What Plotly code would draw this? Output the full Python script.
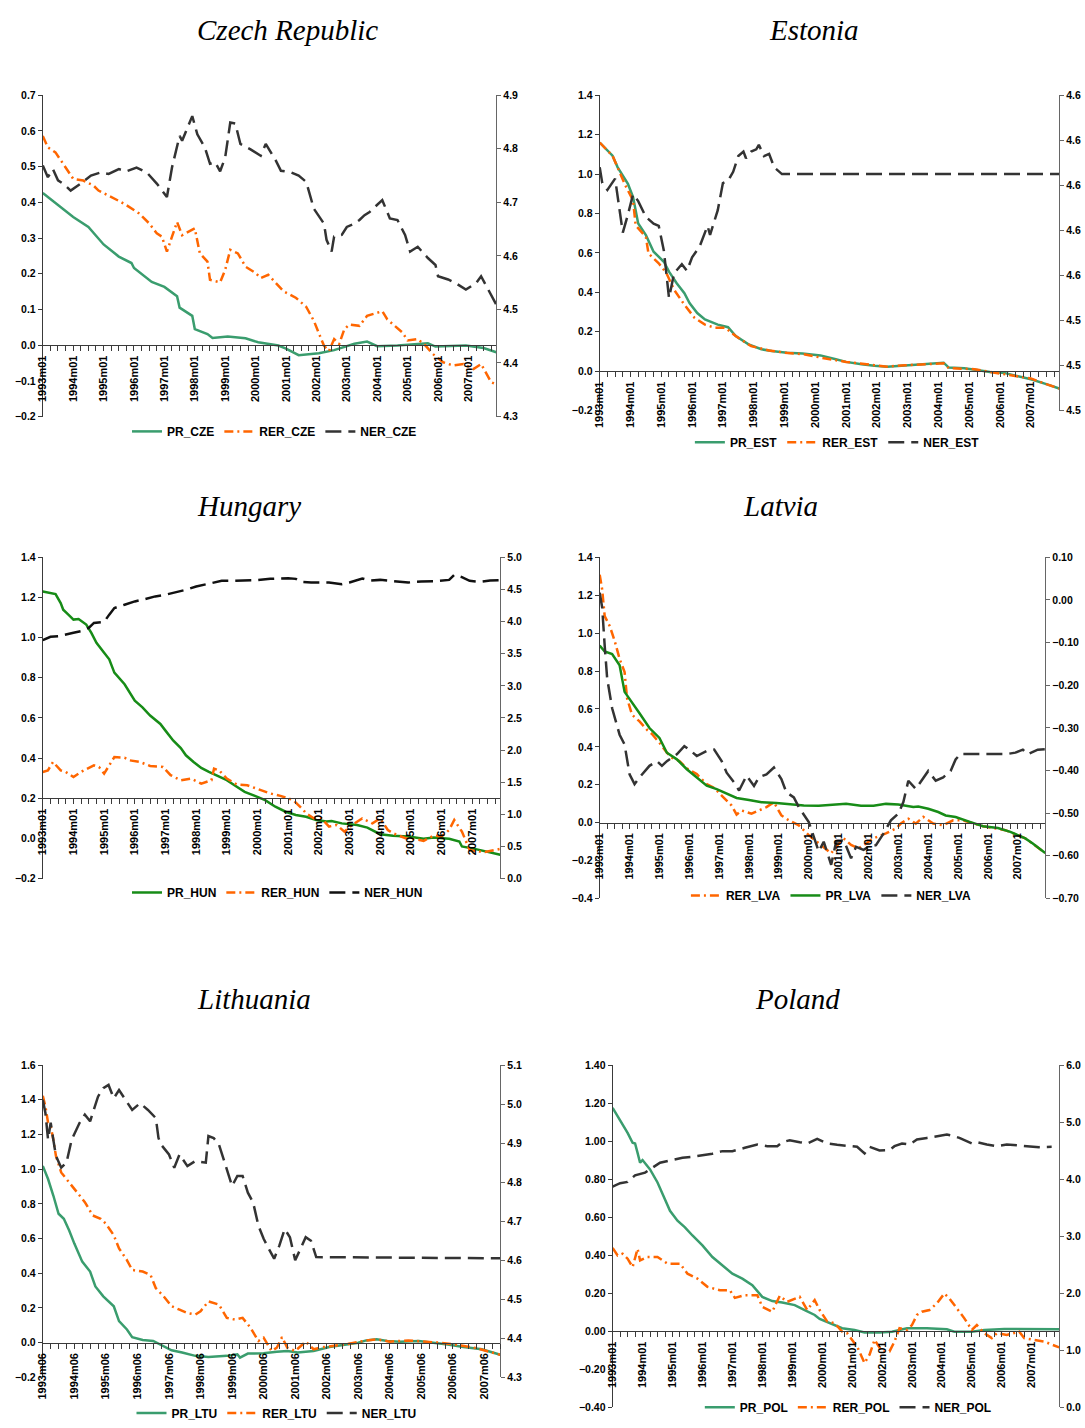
import plotly.graph_objects as go

# ---------------------------------------------------------------------------
# Data: month index counted from 1993m01 (0 = 1993m01, 179 = 2007m12)
# PR = relative price, RER = real exchange rate, NER = log nominal exchange rate
# ---------------------------------------------------------------------------

# Czech Republic
CZE_PR_M = [0, 6, 12, 18, 22, 24, 30, 35, 36, 43, 48, 53, 54, 59, 60, 65, 67, 73, 80, 85,
            93, 96, 101, 109, 115, 120, 123, 128, 132, 140, 147, 152, 155, 167, 174, 179]
CZE_PR = [0.426, 0.392, 0.359, 0.331, 0.299, 0.282, 0.248, 0.230, 0.216, 0.177, 0.163, 0.137,
          0.105, 0.082, 0.045, 0.031, 0.020, 0.024, 0.019, 0.008, -0.001, -0.010, -0.028,
          -0.023, -0.014, -0.004, 0.004, 0.010, -0.003, -0.001, 0.003, 0.005, -0.004, -0.001,
          -0.008, -0.020]
CZE_RER_M = [0, 2, 5, 8, 10, 12, 16, 20, 22, 26, 30, 33, 38, 42, 45, 47, 49, 51, 53, 55, 59,
             60, 62, 65, 66, 70, 72, 74, 77, 80, 84, 86, 89, 93, 95, 100, 104, 107, 111, 113,
             115, 117, 119, 121, 125, 128, 134, 136, 139, 142, 144, 148, 151, 154, 158, 162,
             166, 170, 173, 177, 179]
CZE_RER = [0.586, 0.554, 0.540, 0.507, 0.487, 0.466, 0.461, 0.447, 0.433, 0.419, 0.404, 0.392,
           0.369, 0.341, 0.313, 0.304, 0.262, 0.304, 0.345, 0.308, 0.322, 0.327, 0.257, 0.234,
           0.183, 0.176, 0.211, 0.267, 0.257, 0.220, 0.202, 0.188, 0.197, 0.165, 0.151, 0.132,
           0.107, 0.068, -0.002, -0.016, 0.017, 0.003, 0.044, 0.058, 0.054, 0.082, 0.095,
           0.072, 0.054, 0.035, 0.013, 0.017, -0.001, -0.025, -0.048, -0.057, -0.053, -0.067,
           -0.053, -0.104, -0.110]
CZE_NER_M = [0, 2, 4, 6, 8, 11, 15, 19, 23, 26, 30, 33, 37, 41, 45, 49, 51, 54, 55, 59, 61,
             64, 66, 68, 70, 72, 74, 76, 78, 82, 86, 88, 92, 94, 98, 101, 104, 107, 111, 112,
             114, 115, 118, 120, 123, 125, 127, 129, 131, 134, 137, 140, 143, 145, 148, 152,
             155, 156, 160, 163, 167, 171, 173, 177, 179]
CZE_NER = [4.769, 4.747, 4.762, 4.741, 4.735, 4.722, 4.735, 4.750, 4.756, 4.753, 4.762, 4.758,
           4.765, 4.756, 4.735, 4.710, 4.765, 4.824, 4.815, 4.861, 4.827, 4.802, 4.772, 4.775,
           4.758, 4.784, 4.849, 4.847, 4.809, 4.799, 4.787, 4.809, 4.778, 4.759, 4.756, 4.750,
           4.738, 4.688, 4.660, 4.630, 4.608, 4.636, 4.639, 4.654, 4.660, 4.667, 4.676, 4.682,
           4.691, 4.704, 4.670, 4.667, 4.639, 4.608, 4.617, 4.596, 4.583, 4.562, 4.556, 4.549,
           4.537, 4.549, 4.562, 4.525, 4.509]

# Estonia
EST_PR_M = [0, 5, 7, 11, 13, 15, 18, 21, 25, 27, 30, 33, 35, 38, 41, 46, 50, 53, 58, 63, 67,
            73, 79, 86, 92, 96, 102, 107, 112, 119, 126, 134, 136, 142, 147, 152, 158, 163,
            168, 174, 179]
EST_PR = [1.160, 1.093, 1.034, 0.950, 0.883, 0.749, 0.690, 0.606, 0.555, 0.505, 0.446, 0.396,
          0.346, 0.295, 0.262, 0.236, 0.223, 0.178, 0.136, 0.111, 0.102, 0.094, 0.090, 0.080,
          0.060, 0.047, 0.035, 0.027, 0.023, 0.030, 0.035, 0.043, 0.018, 0.015, 0.006, -0.004,
          -0.010, -0.027, -0.041, -0.066, -0.088]
EST_RER_M = [0, 5, 10, 13, 14, 18, 19, 23, 26, 29, 33, 37, 41, 45, 49, 53, 59, 66, 72, 80,
             88, 96, 107, 112, 119, 126, 134, 136, 146, 152, 158, 163, 168, 174, 179]
EST_RER = [1.160, 1.093, 0.942, 0.866, 0.740, 0.681, 0.597, 0.547, 0.497, 0.413, 0.337, 0.270,
           0.236, 0.220, 0.220, 0.178, 0.127, 0.105, 0.094, 0.085, 0.064, 0.047, 0.030, 0.023,
           0.030, 0.033, 0.040, 0.015, 0.010, -0.004, -0.015, -0.027, -0.037, -0.066, -0.088]
EST_NER_M = [0, 1, 3, 6, 7, 9, 11, 13, 15, 18, 21, 23, 25, 27, 29, 32, 34, 36, 39, 42, 43,
             46, 48, 50, 52, 54, 56, 57, 59, 61, 62, 64, 66, 68, 71, 179]
EST_NER = [4.608, 4.601, 4.598, 4.603, 4.595, 4.579, 4.587, 4.596, 4.593, 4.586, 4.583, 4.582,
           4.571, 4.550, 4.561, 4.565, 4.562, 4.568, 4.573, 4.582, 4.578, 4.589, 4.601, 4.602,
           4.606, 4.613, 4.615, 4.612, 4.615, 4.616, 4.618, 4.613, 4.614, 4.608, 4.605, 4.605]

# Hungary
HUN_PR_M = [0, 3, 5, 7, 8, 10, 12, 14, 17, 19, 21, 24, 26, 28, 32, 36, 39, 42, 46, 48, 51,
            54, 56, 59, 62, 65, 68, 72, 75, 79, 83, 87, 91, 95, 99, 103, 107, 111, 113, 117,
            123, 127, 132, 137, 143, 149, 153, 159, 163, 164, 169, 173, 179]
HUN_PR = [1.230, 1.222, 1.217, 1.172, 1.139, 1.115, 1.090, 1.093, 1.065, 1.024, 0.974, 0.925,
          0.892, 0.826, 0.768, 0.686, 0.653, 0.612, 0.570, 0.537, 0.488, 0.450, 0.414, 0.381,
          0.351, 0.331, 0.315, 0.290, 0.265, 0.232, 0.212, 0.191, 0.158, 0.133, 0.117, 0.108,
          0.092, 0.084, 0.087, 0.075, 0.067, 0.054, 0.021, 0.013, 0.010, -0.002, 0.005,
          -0.002, -0.015, -0.040, -0.052, -0.065, -0.081]
HUN_RER_M = [0, 2, 4, 7, 9, 12, 14, 16, 20, 22, 24, 26, 28, 32, 34, 38, 42, 47, 50, 54, 58,
             62, 66, 67, 69, 72, 76, 80, 85, 89, 93, 98, 102, 103, 106, 109, 112, 115, 118,
             121, 125, 129, 132, 135, 137, 142, 147, 149, 153, 156, 159, 161, 164, 167, 169,
             173, 179]
HUN_RER = [0.331, 0.339, 0.381, 0.339, 0.331, 0.306, 0.323, 0.339, 0.364, 0.356, 0.323, 0.364,
           0.405, 0.402, 0.389, 0.381, 0.361, 0.356, 0.315, 0.290, 0.298, 0.273, 0.290, 0.348,
           0.339, 0.298, 0.268, 0.265, 0.240, 0.224, 0.212, 0.191, 0.141, 0.125, 0.100, 0.100,
           0.059, 0.067, 0.034, 0.067, 0.100, 0.075, 0.100, 0.042, 0.026, 0.001, -0.007,
           -0.012, 0.014, 0.010, 0.042, 0.092, 0.034, -0.057, -0.062, -0.068, -0.052]
HUN_NER_M = [0, 3, 6, 10, 12, 15, 18, 20, 24, 26, 28, 32, 36, 40, 44, 48, 52, 56, 60, 66, 70,
             74, 79, 84, 89, 96, 99, 101, 105, 112, 117, 120, 125, 128, 132, 137, 143, 148,
             153, 159, 161, 164, 167, 171, 175, 179]
HUN_NER = [3.711, 3.763, 3.773, 3.814, 3.825, 3.851, 3.902, 3.979, 3.995, 4.108, 4.211, 4.263,
           4.314, 4.351, 4.392, 4.418, 4.454, 4.495, 4.546, 4.598, 4.634, 4.634, 4.639, 4.644,
           4.665, 4.675, 4.665, 4.619, 4.608, 4.608, 4.582, 4.608, 4.670, 4.639, 4.649, 4.634,
           4.608, 4.624, 4.629, 4.649, 4.727, 4.691, 4.634, 4.619, 4.639, 4.645]

# Latvia
LVA_PR_M = [0, 2, 5, 7, 8, 10, 13, 16, 20, 24, 27, 31, 35, 39, 43, 47, 51, 55, 60, 65, 71,
            75, 82, 88, 95, 99, 105, 110, 115, 120, 126, 128, 132, 136, 139, 143, 149, 154,
            160, 165, 171, 174, 179]
LVA_PR = [0.934, 0.903, 0.890, 0.847, 0.830, 0.690, 0.630, 0.577, 0.499, 0.447, 0.369, 0.334,
          0.282, 0.238, 0.195, 0.177, 0.155, 0.130, 0.120, 0.108, 0.104, 0.099, 0.090, 0.089,
          0.097, 0.099, 0.089, 0.089, 0.099, 0.096, 0.082, 0.085, 0.073, 0.056, 0.038, 0.030,
          0.003, -0.019, -0.028, -0.049, -0.083, -0.110, -0.160]
LVA_RER_M = [0, 1, 2, 4, 6, 8, 10, 11, 13, 16, 19, 21, 24, 27, 29, 32, 35, 39, 43, 46, 49,
             53, 55, 57, 61, 64, 67, 70, 73, 76, 80, 84, 88, 93, 95, 98, 101, 104, 107, 110,
             115, 119, 121, 124, 127, 130, 134, 138, 142, 146, 154, 163, 171, 179]
LVA_RER = [1.308, 1.230, 1.090, 1.038, 0.960, 0.864, 0.795, 0.656, 0.569, 0.534, 0.490, 0.468,
           0.421, 0.369, 0.343, 0.325, 0.287, 0.256, 0.203, 0.183, 0.143, 0.090, 0.043, 0.064,
           0.047, 0.064, 0.082, 0.108, 0.038, 0.012, -0.014, -0.066, -0.110, -0.162, -0.127,
           -0.083, -0.118, -0.136, -0.110, -0.083, -0.057, -0.031, -0.005, 0.021, -0.005,
           0.030, -0.005, -0.014, 0.012, 0.012, -0.019, -0.040, -0.083, -0.160]
LVA_NER_M = [0, 1, 2, 3, 5, 8, 10, 12, 14, 16, 20, 23, 25, 27, 31, 34, 36, 39, 43, 46, 49,
             51, 54, 56, 59, 62, 64, 67, 70, 73, 75, 78, 80, 82, 84, 86, 88, 90, 93, 95, 98,
             101, 103, 106, 108, 111, 114, 117, 120, 122, 124, 127, 130, 132, 135, 138, 141,
             143, 145, 164, 167, 170, 172, 176, 179]
LVA_NER = [0.017, -0.018, -0.107, -0.184, -0.254, -0.316, -0.339, -0.409, -0.432, -0.416,
           -0.389, -0.378, -0.389, -0.378, -0.362, -0.343, -0.351, -0.366, -0.354, -0.351,
           -0.378, -0.405, -0.428, -0.447, -0.412, -0.436, -0.416, -0.409, -0.393, -0.420,
           -0.451, -0.463, -0.486, -0.505, -0.521, -0.555, -0.590, -0.567, -0.621, -0.567,
           -0.563, -0.606, -0.579, -0.586, -0.579, -0.575, -0.548, -0.517, -0.501, -0.474,
           -0.424, -0.443, -0.416, -0.401, -0.424, -0.416, -0.401, -0.374, -0.361, -0.361,
           -0.358, -0.351, -0.362, -0.351, -0.350]

# Lithuania (series start in 1993m06 = month 5)
LTU_PR_M = [5, 7, 9, 11, 13, 15, 17, 20, 23, 25, 28, 32, 34, 37, 39, 43, 47, 50, 54, 58, 63,
            68, 75, 79, 80, 83, 89, 94, 98, 102, 108, 114, 120, 125, 128, 132, 136, 141, 148,
            154, 159, 165, 172, 179]
LTU_PR = [1.019, 0.943, 0.848, 0.743, 0.714, 0.648, 0.571, 0.467, 0.410, 0.324, 0.267, 0.210,
          0.124, 0.076, 0.032, 0.015, 0.010, -0.013, -0.044, -0.057, -0.076, -0.082, -0.076,
          -0.067, -0.086, -0.063, -0.061, -0.053, -0.048, -0.057, -0.048, -0.025, -0.010,
          0.000, 0.013, 0.019, 0.010, 0.006, 0.010, 0.000, -0.010, -0.025, -0.038, -0.070]
LTU_RER_M = [5, 6, 7, 8, 9, 10, 12, 14, 16, 19, 21, 24, 27, 29, 32, 34, 37, 39, 43, 46, 48,
             51, 54, 57, 60, 63, 65, 68, 72, 75, 78, 81, 84, 87, 89, 92, 94, 96, 98, 101, 103,
             105, 108, 112, 120, 128, 132, 137, 144, 150, 156, 163, 170, 179]
LTU_RER = [1.423, 1.362, 1.267, 1.248, 1.171, 1.076, 0.981, 0.943, 0.905, 0.848, 0.810, 0.733,
           0.714, 0.686, 0.619, 0.543, 0.476, 0.419, 0.410, 0.390, 0.314, 0.267, 0.210, 0.190,
           0.171, 0.162, 0.181, 0.238, 0.219, 0.143, 0.133, 0.143, 0.086, 0.010, 0.029,
           -0.048, -0.029, 0.032, -0.029, -0.048, -0.019, 0.006, -0.038, -0.025, -0.010,
           0.013, 0.019, 0.006, 0.013, 0.006, 0.000, -0.013, -0.032, -0.070]
LTU_NER_M = [5, 6, 7, 8, 9, 10, 12, 14, 16, 19, 21, 23, 26, 28, 30, 32, 34, 37, 39, 42, 45,
             48, 49, 50, 53, 55, 57, 60, 63, 67, 68, 70, 72, 75, 77, 79, 81, 83, 85, 87, 89,
             91, 93, 95, 97, 99, 101, 103, 105, 107, 109, 179]
LTU_NER = [5.011, 4.977, 4.909, 4.952, 4.909, 4.867, 4.837, 4.850, 4.909, 4.952, 4.973, 4.956,
           5.019, 5.041, 5.049, 5.015, 5.036, 5.007, 4.985, 5.002, 4.985, 4.964, 4.913, 4.896,
           4.871, 4.837, 4.871, 4.841, 4.854, 4.850, 4.918, 4.913, 4.896, 4.833, 4.790, 4.816,
           4.816, 4.773, 4.748, 4.689, 4.655, 4.629, 4.604, 4.638, 4.680, 4.659, 4.600, 4.629,
           4.659, 4.650, 4.608, 4.605]

# Poland
POL_PR_M = [0, 2, 4, 6, 8, 9, 10, 11, 12, 15, 18, 21, 23, 26, 29, 32, 36, 40, 44, 48, 52,
            56, 60, 64, 68, 73, 77, 81, 83, 88, 92, 97, 101, 107, 112, 118, 126, 134, 137,
            144, 149, 157, 164, 171, 179]
POL_PR = [1.174, 1.130, 1.086, 1.043, 0.991, 0.987, 0.938, 0.886, 0.900, 0.851, 0.782, 0.694,
          0.633, 0.581, 0.546, 0.503, 0.451, 0.390, 0.346, 0.302, 0.276, 0.241, 0.180, 0.158,
          0.151, 0.137, 0.111, 0.085, 0.064, 0.036, 0.015, 0.006, -0.007, -0.007, -0.003,
          0.015, 0.015, 0.010, -0.003, -0.003, 0.006, 0.011, 0.011, 0.010, 0.010]
POL_RER_M = [0, 2, 4, 6, 8, 10, 11, 14, 18, 22, 27, 30, 34, 38, 43, 47, 49, 53, 58, 60, 64,
             67, 70, 72, 75, 78, 81, 83, 86, 89, 92, 94, 96, 98, 101, 103, 105, 108, 111, 113,
             115, 118, 120, 122, 124, 127, 130, 133, 135, 138, 141, 144, 146, 149, 152, 154,
             158, 163, 165, 169, 173, 179]
POL_RER = [0.437, 0.398, 0.407, 0.381, 0.337, 0.433, 0.372, 0.390, 0.390, 0.355, 0.355, 0.302,
           0.276, 0.233, 0.215, 0.215, 0.175, 0.189, 0.189, 0.128, 0.102, 0.186, 0.154, 0.163,
           0.180, 0.111, 0.163, 0.111, 0.051, 0.042, -0.003, -0.011, -0.046, -0.081, -0.168,
           -0.124, -0.046, -0.107, -0.107, -0.055, 0.015, 0.006, 0.032, 0.085, 0.102, 0.111,
           0.146, 0.198, 0.172, 0.120, 0.067, 0.006, 0.032, -0.011, -0.037, -0.011, -0.020,
           -0.003, -0.037, -0.046, -0.055, -0.086]
POL_NER_M = [0, 3, 6, 9, 13, 15, 19, 23, 28, 32, 36, 40, 44, 48, 53, 58, 62, 66, 68, 71, 75,
             78, 82, 86, 90, 94, 98, 101, 103, 107, 111, 113, 116, 119, 122, 126, 130, 134,
             137, 139, 144, 146, 150, 154, 158, 163, 167, 171, 176]
POL_NER = [3.869, 3.927, 3.950, 4.066, 4.113, 4.171, 4.287, 4.327, 4.374, 4.391, 4.415, 4.444,
           4.490, 4.490, 4.548, 4.606, 4.577, 4.577, 4.647, 4.682, 4.647, 4.624, 4.705, 4.624,
           4.600, 4.589, 4.566, 4.449, 4.566, 4.502, 4.508, 4.577, 4.624, 4.606, 4.693, 4.722,
           4.751, 4.780, 4.751, 4.722, 4.624, 4.647, 4.606, 4.577, 4.606, 4.589, 4.577, 4.560,
           4.566]

# Category-axis labels (one per year)
LABELS_M01 = ["1993m01", "1994m01", "1995m01", "1996m01", "1997m01", "1998m01", "1999m01",
              "2000m01", "2001m01", "2002m01", "2003m01", "2004m01", "2005m01", "2006m01",
              "2007m01"]
LABELS_M06 = ["1993m06", "1994m06", "1995m06", "1996m06", "1997m06", "1998m06", "1999m06",
              "2000m06", "2001m06", "2002m06", "2003m06", "2004m06", "2005m06", "2006m06",
              "2007m06"]
TICKS_M01 = list(range(0, 169, 12))
TICKS_M06 = list(range(5, 174, 12))

# ---------------------------------------------------------------------------
# Styling
# ---------------------------------------------------------------------------
W, H = 1085, 1428
SANS = "Liberation Sans"
SERIF = "Liberation Serif"
AXIS = "#3a3a3a"
SEA_GREEN = "#3a9d6e"
GREEN = "#178c17"
ORANGE = "#ff6600"
DARK = "#333333"
BLACK = "#111111"

RER_DASH = "9px,4px,2px,4px"
NER_DASH = "16px,7px"


def series(name, months, values, side, color, dash):
    return dict(name=name, x=months, y=values, side=side, color=color, dash=dash)


PANELS = [
    dict(title="Czech Republic", box=(37, 493, 90, 414), title_at=(283, 24),
         legend_at=(270, 429), xr=(0, 179), ticks=TICKS_M01, labels=LABELS_M01,
         left=((-0.2, 0.7), 0.1, ".1f"), right=((4.3, 4.9), 0.1, ".1f"), cross=0.0,
         lines=[series("PR_CZE", CZE_PR_M, CZE_PR, "l", SEA_GREEN, "solid"),
                series("RER_CZE", CZE_RER_M, CZE_RER, "l", ORANGE, RER_DASH),
                series("NER_CZE", CZE_NER_M, CZE_NER, "r", DARK, NER_DASH)]),
    dict(title="Estonia", box=(597, 1059, 90, 408), title_at=(812, 24),
         legend_at=(836, 440), xr=(0, 179), ticks=TICKS_M01, labels=LABELS_M01,
         left=((-0.2, 1.4), 0.2, ".1f"), right=((4.50, 4.64), 0.02, ".1f"), cross=0.0,
         lines=[series("PR_EST", EST_PR_M, EST_PR, "l", SEA_GREEN, "solid"),
                series("RER_EST", EST_RER_M, EST_RER, "l", ORANGE, RER_DASH),
                series("NER_EST", EST_NER_M, EST_NER, "r", DARK, NER_DASH)]),
    dict(title="Hungary", box=(37, 497, 556, 880), title_at=(244, 504),
         legend_at=(273, 894), xr=(0, 179), ticks=TICKS_M01, labels=LABELS_M01,
         left=((-0.2, 1.4), 0.2, ".1f"), right=((0.0, 5.0), 0.5, ".1f"), cross=0.2,
         lines=[series("PR_HUN", HUN_PR_M, HUN_PR, "l", GREEN, "solid"),
                series("RER_HUN", HUN_RER_M, HUN_RER, "l", ORANGE, RER_DASH),
                series("NER_HUN", HUN_NER_M, HUN_NER, "r", BLACK, NER_DASH)]),
    dict(title="Latvia", box=(597, 1045, 556, 900), title_at=(779, 504),
         legend_at=(830, 897), xr=(0, 179), ticks=TICKS_M01, labels=LABELS_M01,
         left=((-0.4, 1.4), 0.2, ".1f"), right=((-0.70, 0.10), 0.1, ".2f"), cross=0.0,
         lines=[series("RER_LVA", LVA_RER_M, LVA_RER, "l", ORANGE, RER_DASH),
                series("PR_LVA", LVA_PR_M, LVA_PR, "l", GREEN, "solid"),
                series("NER_LVA", LVA_NER_M, LVA_NER, "r", DARK, NER_DASH)]),
    dict(title="Lithuania", box=(37, 497, 1068, 1383), title_at=(249, 1001),
         legend_at=(272, 1419), xr=(5, 179), ticks=TICKS_M06, labels=LABELS_M06,
         left=((-0.2, 1.6), 0.2, ".1f"), right=((4.3, 5.1), 0.1, ".1f"), cross=0.0,
         lines=[series("PR_LTU", LTU_PR_M, LTU_PR, "l", SEA_GREEN, "solid"),
                series("RER_LTU", LTU_RER_M, LTU_RER, "l", ORANGE, RER_DASH),
                series("NER_LTU", LTU_NER_M, LTU_NER, "r", DARK, NER_DASH)]),
    dict(title="Poland", box=(610, 1059, 1068, 1413), title_at=(796, 1001),
         legend_at=(847, 1413), xr=(0, 179), ticks=TICKS_M01, labels=LABELS_M01,
         left=((-0.4, 1.4), 0.2, ".2f"), right=((0.0, 6.0), 1.0, ".1f"), cross=0.0,
         lines=[series("PR_POL", POL_PR_M, POL_PR, "l", SEA_GREEN, "solid"),
                series("RER_POL", POL_RER_M, POL_RER, "l", ORANGE, RER_DASH),
                series("NER_POL", POL_NER_M, POL_NER, "r", DARK, NER_DASH)]),
]

TICK_FONT_Y = dict(family=SANS, size=10.5, color="black", weight="bold")
TICK_FONT_X = dict(family=SANS, size=11, color="black", weight="bold")
LEGEND_FONT = dict(family=SANS, size=12, color="black", weight="bold")

fig = go.Figure()
layout = dict(width=W, height=H, margin=dict(l=0, r=0, t=0, b=0),
              paper_bgcolor="white", plot_bgcolor="rgba(0,0,0,0)",
              showlegend=True, annotations=[])

for i, p in enumerate(PANELS, start=1):
    sfx = "" if i == 1 else str(i)
    x_ref = "x" + sfx
    yl_n, yr_n = 2 * i - 1, 2 * i
    yl_ref = "y" if yl_n == 1 else f"y{yl_n}"
    yr_ref = f"y{yr_n}"
    leg_ref = "legend" if i == 1 else f"legend{i}"

    L, R, T, B = p["box"]
    dom_x = [L / W, R / W]
    dom_y = [1 - B / H, 1 - T / H]
    (lo, hi), l_dtick, l_fmt = p["left"]
    (rlo, rhi), r_dtick, r_fmt = p["right"]
    cross_pos = dom_y[0] + (p["cross"] - lo) / (hi - lo) * (dom_y[1] - dom_y[0])
    x0, x1 = p["xr"]

    layout["xaxis" + sfx] = dict(
        domain=dom_x, range=[x0, x1], anchor="free", position=cross_pos,
        showline=True, linecolor=AXIS, linewidth=1, showgrid=False, zeroline=False,
        ticks="outside", ticklen=5, tickcolor=AXIS, tickwidth=1,
        tickmode="array", tickvals=p["ticks"], ticktext=p["labels"], tickangle=-90,
        tickfont=TICK_FONT_X,
        minor=dict(tickmode="array", tickvals=list(range(x0, x1 + 1, 3)),
                   ticks="outside", ticklen=5, tickcolor=AXIS, tickwidth=1),
        fixedrange=True)
    layout["yaxis" + ("" if yl_n == 1 else str(yl_n))] = dict(
        domain=dom_y, range=[lo, hi], anchor=x_ref, side="left",
        showline=True, linecolor=AXIS, linewidth=1, showgrid=False, zeroline=False,
        ticks="outside", ticklen=4, tickcolor=AXIS, tickmode="linear", tick0=lo,
        dtick=l_dtick, tickformat=l_fmt, tickfont=TICK_FONT_Y, fixedrange=True)
    layout[f"yaxis{yr_n}"] = dict(
        range=[rlo, rhi], anchor=x_ref, overlaying=yl_ref, side="right",
        showline=True, linecolor="#666666", linewidth=1, showgrid=False, zeroline=False,
        ticks="outside", ticklen=4, tickcolor="#666666", tickmode="linear", tick0=rlo,
        dtick=r_dtick, tickformat=r_fmt, tickfont=TICK_FONT_Y, fixedrange=True)

    for s in p["lines"]:
        fig.add_trace(go.Scatter(
            x=s["x"], y=s["y"], name=s["name"], mode="lines",
            line=dict(color=s["color"], width=2.5, dash=s["dash"]),
            xaxis=x_ref, yaxis=yl_ref if s["side"] == "l" else yr_ref,
            legend=leg_ref, hoverinfo="skip"))

    lx, ly = p["legend_at"]
    layout[leg_ref] = dict(
        orientation="h", x=lx / W, y=1 - ly / H, xanchor="center", yanchor="middle",
        font=LEGEND_FONT, bgcolor="rgba(0,0,0,0)", itemwidth=30, itemclick=False,
        itemdoubleclick=False, tracegroupgap=0)

    tx, ty = p["title_at"]
    layout["annotations"].append(dict(
        text=p["title"], x=tx / W, y=1 - ty / H, xref="paper", yref="paper",
        xanchor="center", yanchor="middle", showarrow=False,
        font=dict(family=SERIF, size=29, style="italic", color="black")))

fig.update_layout(**layout)
fig.write_html("out.html", include_plotlyjs=True, config={"displayModeBar": False},
               post_script="document.body.style.margin='0';")
